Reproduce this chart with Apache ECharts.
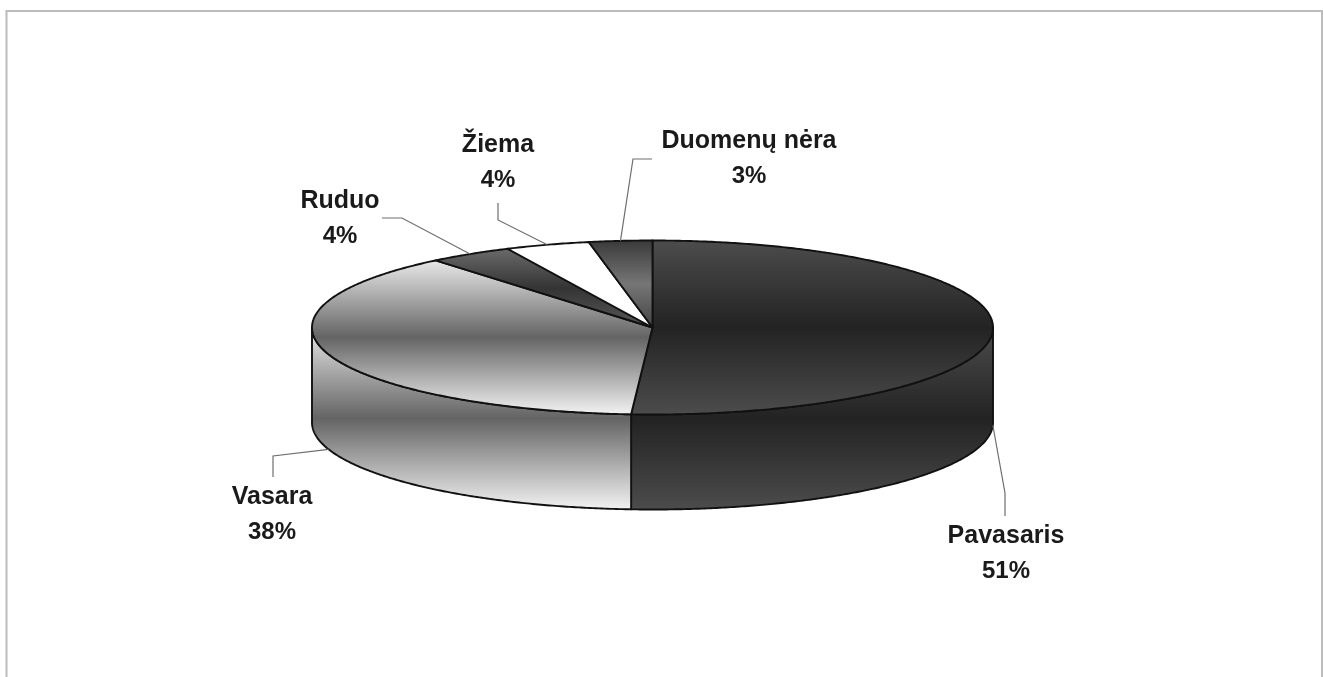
<!DOCTYPE html>
<html lang="lt">
<head>
<meta charset="utf-8">
<title>Metų laikai</title>
<style>
  html, body { margin: 0; padding: 0; background: #ffffff; }
  #chart { width: 1323px; height: 677px; }
</style>
</head>
<body>
<div id="chart"></div>
<script src="https://cdn.jsdelivr.net/npm/echarts@6/dist/echarts.min.js"></script>
<script>
// Slices, clockwise from twelve o'clock
var categories = ['Pavasaris', 'Vasara', 'Ruduo', 'Žiema', 'Duomenų nėra'];
var shares = [51, 38, 4, 4, 3];

// Tilted disc geometry in pixels
var disc = { cx: 652.5, cy: 327.5, rx: 340.5, ry: 87, depth: 95 };

// Grey bands of each slice: edge, middle, edge of its own vertical extent
var bands = [
  ['#4c4c4c', '#232323', '#4c4c4c'],
  ['#e8e8e8', '#646464', '#f2f2f2'],
  ['#6a6a6a', '#343434', '#585858'],
  ['#ffffff', '#ffffff', '#ffffff'],
  ['#3a3a3a', '#767676', '#444444']
];

// Label centres and the elbow of each leader line
var labelCentres = [[1006, 536], [272, 497], [340, 201], [498, 145], [749, 141]];
var leaderElbows = [[[1005, 493], [1005, 516]], [[273, 456], [273, 477]], [[402, 218], [382, 218]], [[498, 220], [498, 203]], [[633, 159], [652, 159]]];

var RAD = Math.PI / 180;

function point(deg, drop) {
  return [
    disc.cx + disc.rx * Math.sin(deg * RAD),
    disc.cy - disc.ry * Math.cos(deg * RAD) + (drop || 0)
  ];
}

function arc(from, to, drop) {
  var pts = [];
  var steps = Math.max(2, Math.ceil(Math.abs(to - from) * 2));
  for (var s = 0; s <= steps; s++) {
    pts.push(point(from + (to - from) * s / steps, drop));
  }
  return pts;
}

function extent(pts) {
  var ys = pts.map(function (p) { return p[1]; });
  return [Math.min.apply(null, ys), Math.max.apply(null, ys)];
}

function bandFill(stops, pts) {
  var e = extent(pts);
  return {
    type: 'linear', x: 0, y: e[0], x2: 0, y2: e[1], global: true,
    colorStops: [
      { offset: 0, color: stops[0] },
      { offset: 0.5, color: stops[1] },
      { offset: 1, color: stops[2] }
    ]
  };
}

var total = shares.reduce(function (a, b) { return a + b; }, 0);
var outline = { stroke: '#111111', lineWidth: 1.9, lineJoin: 'round' };

function renderSlice(params, api) {
  var i = params.dataIndex;
  var before = 0;
  for (var k = 0; k < i; k++) before += shares[k];
  var from = before / total * 360;
  var to = (before + api.value(0)) / total * 360;
  var mid = (from + to) / 2;
  var children = [];

  // Only the front half of the rim faces the viewer
  var sideFrom = Math.max(from, 90);
  var sideTo = Math.min(to, 270);
  if (sideTo > sideFrom) {
    var side = arc(sideFrom, sideTo, 0).concat(arc(sideTo, sideFrom, disc.depth));
    children.push({
      type: 'polygon', z2: 1,
      shape: { points: side },
      style: Object.assign({ fill: bandFill(bands[i], side) }, outline)
    });
  }

  var top = [[disc.cx, disc.cy]].concat(arc(from, to, 0));
  children.push({
    type: 'polygon', z2: 2,
    shape: { points: top },
    style: Object.assign({ fill: bandFill(bands[i], top) }, outline)
  });

  // Leader line from the slice's middle angle, on the rim's lower edge when it faces front
  var frontFacing = mid > 90 && mid < 270;
  var anchor = point(mid, frontFacing ? disc.depth : 0);
  children.push({
    type: 'polyline', z2: 3,
    shape: { points: [anchor].concat(leaderElbows[i]) },
    style: { stroke: '#6e6e6e', lineWidth: 1.2, fill: null }
  });

  var c = labelCentres[i];
  children.push({
    type: 'text', z2: 4,
    style: {
      x: c[0], y: c[1], text: categories[i], align: 'center', verticalAlign: 'middle',
      fill: '#1a1a1a', fontFamily: 'Liberation Sans', fontWeight: 'bold', fontSize: 25
    }
  });
  children.push({
    type: 'text', z2: 4,
    style: {
      x: c[0], y: c[1] + 35, text: api.value(0) + '%', align: 'center', verticalAlign: 'middle',
      fill: '#1a1a1a', fontFamily: 'Liberation Sans', fontWeight: 'bold', fontSize: 24
    }
  });

  return { type: 'group', children: children };
}

var chart = echarts.init(document.getElementById('chart'), null, { renderer: 'canvas' });
chart.setOption({
  animation: false,
  backgroundColor: '#ffffff',
  tooltip: { show: false },
  graphic: [{
    // Frame open along the bottom edge
    type: 'polyline', silent: true,
    shape: { points: [[6.5, 677], [6.5, 11], [1322, 11], [1322, 677]] },
    style: { stroke: '#bcbcbc', lineWidth: 2, fill: null }
  }],
  series: [{
    type: 'custom',
    coordinateSystem: 'none',
    renderItem: renderSlice,
    data: categories.map(function (name, i) { return { name: name, value: [shares[i]] }; })
  }]
});
</script>
</body>
</html>
